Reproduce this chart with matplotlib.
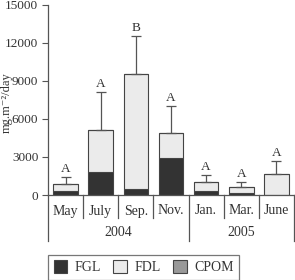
import matplotlib
matplotlib.use("Agg")
import matplotlib.pyplot as plt
from matplotlib.patches import Patch
from matplotlib.transforms import blended_transform_factory

plt.rcParams['font.family'] = ['Liberation Serif', 'DejaVu Serif']

months = ["May", "July", "Sep.", "Nov.", "Jan.", "Mar.", "June"]
years = ["2004", "2005"]
year_spans = [(0, 3), (4, 6)]
fgl = [300, 1800, 470, 2900, 320, 160, 0]
fdl = [570, 3330, 9080, 2000, 710, 470, 1660]
cpom = [0, 0, 0, 0, 0, 0, 0]
err = [530, 3000, 3000, 2130, 550, 400, 1020]
letters = ["A", "A", "B", "A", "A", "A", "A"]
yticks = [0, 3000, 6000, 9000, 12000, 15000]

W, H = 295, 280
fig = plt.figure(figsize=(W / 100, H / 100), dpi=100)
ax = fig.add_axes([48 / W, 1 - 195 / H, (294 - 48) / W, 190 / H])

fs = 10
x = list(range(len(months)))
edge = "#444444"
c_fgl, c_fdl, c_cpom = "#333333", "#ebebeb", "#999999"
bw = 0.7
ax.bar(x, fgl, bw, color=c_fgl, edgecolor=edge, linewidth=0.8)
ax.bar(x, fdl, bw, bottom=fgl, color=c_fdl, edgecolor=edge, linewidth=0.8)
bot2 = [a + b for a, b in zip(fgl, fdl)]
ax.bar(x, cpom, bw, bottom=bot2, color=c_cpom, edgecolor=edge, linewidth=0.8)
tot = [a + b for a, b in zip(bot2, cpom)]
ax.errorbar(x, tot, yerr=[[0] * len(x), err], fmt="none", ecolor="#555555",
            elinewidth=0.9, capsize=3.5, capthick=0.9)
for xi, t, e, l in zip(x, tot, err, letters):
    ax.text(xi, t + e + 150, l, ha="center", va="bottom", fontsize=9.5, color="#333333")

ax.set_xlim(-0.5, len(months) - 0.5)
ax.set_ylim(0, 15000)
ax.set_yticks(yticks)
ax.set_yticklabels([str(v) for v in yticks], fontsize=9.5, color="#333333")
ax.set_xticks([])
ax.tick_params(axis="y", direction="out", length=4, width=0.8, color="#555555", pad=3)
for s in ["top", "right"]:
    ax.spines[s].set_visible(False)
for s in ["left", "bottom"]:
    ax.spines[s].set_color("#555555")
    ax.spines[s].set_linewidth(0.9)
fig.text(6.5 / W, 1 - 103 / H, "mg.m\u207b\u00b2/day", rotation=90, ha="center", va="center",
         fontsize=9, color="#333333")

tr = blended_transform_factory(ax.transData, ax.transAxes)
px = 1 / 190
for xi, m in zip(x, months):
    ax.text(xi, -16 * px, m, transform=tr, ha="center", va="center", fontsize=fs, color="#333333")
group_edges = [-0.5, 3.5, 6.5]
for i in range(len(months) + 1):
    xe = i - 0.5
    low = -46 * px if xe in group_edges else -23 * px
    ax.plot([xe, xe], [0, low], transform=tr, color="#555555", lw=0.9, clip_on=False)
for (a, b), yl in zip(year_spans, years):
    ax.text((a + b) / 2, -38 * px, yl, transform=tr, ha="center", va="center", fontsize=fs, color="#333333")

handles = [Patch(facecolor=c, edgecolor=edge, linewidth=0.8) for c in (c_fgl, c_fdl, c_cpom)]
leg = fig.legend(handles, ["FGL", "FDL", "CPOM"], loc="lower left",
                 bbox_to_anchor=(48 / W, 0.0, (239 - 48) / W, 26 / H), mode="expand",
                 ncol=3, fontsize=fs, frameon=True, fancybox=False, handlelength=1.0,
                 handleheight=1.0, handletextpad=0.5, borderaxespad=0.0, labelcolor="#333333",
                 borderpad=0.4)
leg.get_frame().set_edgecolor("#555555")
leg.get_frame().set_linewidth(0.9)

fig.savefig("out.png", dpi=100)
